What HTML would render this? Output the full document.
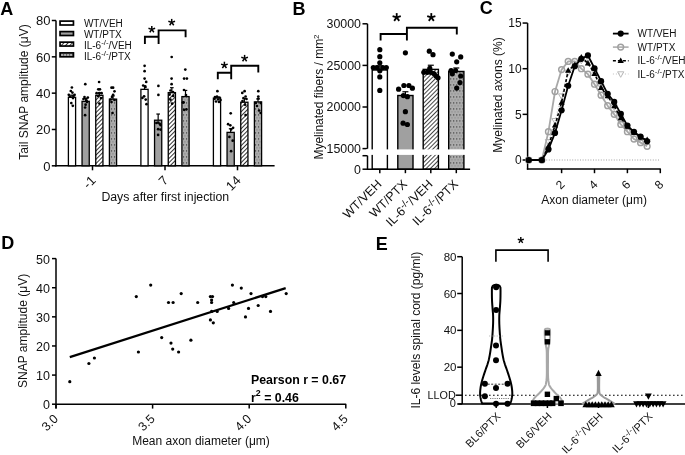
<!DOCTYPE html>
<html><head><meta charset="utf-8"><style>
html,body{margin:0;padding:0;background:#fff;}
svg{display:block;will-change:transform;}
text{font-family:"Liberation Sans", sans-serif;}
</style></head><body>
<svg width="685" height="455" viewBox="0 0 685 455">
<rect width="685" height="455" fill="#fff"/>
<defs>
<pattern id="hatchA" patternUnits="userSpaceOnUse" width="3" height="3" patternTransform="rotate(-45)">
<rect width="3" height="3" fill="#fff"/><line x1="0" y1="0" x2="3" y2="0" stroke="#000" stroke-width="1.6"/></pattern>
<pattern id="hatchB" patternUnits="userSpaceOnUse" width="3" height="3" patternTransform="rotate(-45)">
<rect width="3" height="3" fill="#fff"/><line x1="0" y1="0" x2="3" y2="0" stroke="#000" stroke-width="1.45"/></pattern>
<pattern id="dotsA" patternUnits="userSpaceOnUse" width="3" height="6" x="0" y="0.4">
<rect width="3" height="6" fill="#acacac"/><rect x="0" y="0" width="1.1" height="1.1" fill="#303030"/><rect x="1.2" y="3" width="1.4" height="0.8" fill="#7c7c7c"/></pattern>
<pattern id="dotsB" patternUnits="userSpaceOnUse" width="3.1" height="6" x="0.5" y="0.4">
<rect width="3.1" height="6" fill="#acacac"/><rect x="0" y="0" width="1.1" height="1.1" fill="#383838"/><rect x="1.2" y="3" width="1.5" height="0.8" fill="#808080"/></pattern>
</defs>
<text x="0.20" y="14.60" font-size="18" text-anchor="start" font-weight="bold" fill="#000" >A</text>
<line x1="56.00" y1="20.50" x2="56.00" y2="166.55" stroke="#000" stroke-width="1.5" />
<line x1="51.80" y1="165.80" x2="56.00" y2="165.80" stroke="#000" stroke-width="1.5" />
<text x="50.40" y="170.50" font-size="13" text-anchor="end" font-weight="normal" fill="#111" >0</text>
<line x1="51.80" y1="129.48" x2="56.00" y2="129.48" stroke="#000" stroke-width="1.5" />
<text x="50.40" y="134.18" font-size="13" text-anchor="end" font-weight="normal" fill="#111" >20</text>
<line x1="51.80" y1="93.15" x2="56.00" y2="93.15" stroke="#000" stroke-width="1.5" />
<text x="50.40" y="97.85" font-size="13" text-anchor="end" font-weight="normal" fill="#111" >40</text>
<line x1="51.80" y1="56.83" x2="56.00" y2="56.83" stroke="#000" stroke-width="1.5" />
<text x="50.40" y="61.53" font-size="13" text-anchor="end" font-weight="normal" fill="#111" >60</text>
<line x1="51.80" y1="20.50" x2="56.00" y2="20.50" stroke="#000" stroke-width="1.5" />
<text x="50.40" y="25.20" font-size="13" text-anchor="end" font-weight="normal" fill="#111" >80</text>
<text transform="translate(27.80,92.00) rotate(-90)" font-size="12" text-anchor="middle" fill="#111" >Tail SNAP amplitude (μV)</text>
<line x1="55.25" y1="165.80" x2="274.60" y2="165.80" stroke="#000" stroke-width="1.5" />
<line x1="92.50" y1="165.80" x2="92.50" y2="170.30" stroke="#000" stroke-width="1.5" />
<line x1="165.00" y1="165.80" x2="165.00" y2="170.30" stroke="#000" stroke-width="1.5" />
<line x1="237.50" y1="165.80" x2="237.50" y2="170.30" stroke="#000" stroke-width="1.5" />
<text transform="translate(96.50,181.20) rotate(-45)" font-size="13" text-anchor="end" fill="#111" >-1</text>
<text transform="translate(169.00,181.20) rotate(-45)" font-size="13" text-anchor="end" fill="#111" >7</text>
<text transform="translate(241.50,181.20) rotate(-45)" font-size="13" text-anchor="end" fill="#111" >14</text>
<text x="165.30" y="200.60" font-size="12.3" text-anchor="middle" font-weight="normal" fill="#111" >Days after first injection</text>
<rect x="68.40" y="97.33" width="7.2" height="68.47" fill="#fff" stroke="#000" stroke-width="1.3"/>
<line x1="72.00" y1="97.33" x2="72.00" y2="95.15" stroke="#000" stroke-width="1.2" />
<line x1="70.20" y1="95.15" x2="73.80" y2="95.15" stroke="#000" stroke-width="1.2" />
<rect x="82.05" y="101.32" width="7.2" height="64.48" fill="#a0a0a0" stroke="#000" stroke-width="1.3"/>
<line x1="85.65" y1="101.32" x2="85.65" y2="98.42" stroke="#000" stroke-width="1.2" />
<line x1="83.85" y1="98.42" x2="87.45" y2="98.42" stroke="#000" stroke-width="1.2" />
<rect x="95.75" y="95.33" width="7.2" height="70.47" fill="url(#hatchA)" stroke="#000" stroke-width="1.3"/>
<line x1="99.35" y1="95.33" x2="99.35" y2="92.79" stroke="#000" stroke-width="1.2" />
<line x1="97.55" y1="92.79" x2="101.15" y2="92.79" stroke="#000" stroke-width="1.2" />
<rect x="109.40" y="99.14" width="7.2" height="66.66" fill="url(#dotsA)" stroke="#000" stroke-width="1.3"/>
<line x1="113.00" y1="99.14" x2="113.00" y2="95.87" stroke="#000" stroke-width="1.2" />
<line x1="111.20" y1="95.87" x2="114.80" y2="95.87" stroke="#000" stroke-width="1.2" />
<rect x="140.90" y="89.34" width="7.2" height="76.46" fill="#fff" stroke="#000" stroke-width="1.3"/>
<line x1="144.50" y1="89.34" x2="144.50" y2="85.70" stroke="#000" stroke-width="1.2" />
<line x1="142.70" y1="85.70" x2="146.30" y2="85.70" stroke="#000" stroke-width="1.2" />
<rect x="154.55" y="120.21" width="7.2" height="45.59" fill="#a0a0a0" stroke="#000" stroke-width="1.3"/>
<line x1="158.15" y1="120.21" x2="158.15" y2="114.04" stroke="#000" stroke-width="1.2" />
<line x1="156.35" y1="114.04" x2="159.95" y2="114.04" stroke="#000" stroke-width="1.2" />
<rect x="168.25" y="92.61" width="7.2" height="73.19" fill="url(#hatchA)" stroke="#000" stroke-width="1.3"/>
<line x1="171.85" y1="92.61" x2="171.85" y2="87.70" stroke="#000" stroke-width="1.2" />
<line x1="170.05" y1="87.70" x2="173.65" y2="87.70" stroke="#000" stroke-width="1.2" />
<rect x="181.90" y="96.60" width="7.2" height="69.20" fill="url(#dotsA)" stroke="#000" stroke-width="1.3"/>
<line x1="185.50" y1="96.60" x2="185.50" y2="90.43" stroke="#000" stroke-width="1.2" />
<line x1="183.70" y1="90.43" x2="187.30" y2="90.43" stroke="#000" stroke-width="1.2" />
<rect x="213.40" y="98.05" width="7.2" height="67.75" fill="#fff" stroke="#000" stroke-width="1.3"/>
<line x1="217.00" y1="98.05" x2="217.00" y2="96.96" stroke="#000" stroke-width="1.2" />
<line x1="215.20" y1="96.96" x2="218.80" y2="96.96" stroke="#000" stroke-width="1.2" />
<rect x="227.05" y="132.38" width="7.2" height="33.42" fill="#a0a0a0" stroke="#000" stroke-width="1.3"/>
<line x1="230.65" y1="132.38" x2="230.65" y2="128.75" stroke="#000" stroke-width="1.2" />
<line x1="228.85" y1="128.75" x2="232.45" y2="128.75" stroke="#000" stroke-width="1.2" />
<rect x="240.75" y="102.23" width="7.2" height="63.57" fill="url(#hatchA)" stroke="#000" stroke-width="1.3"/>
<line x1="244.35" y1="102.23" x2="244.35" y2="98.60" stroke="#000" stroke-width="1.2" />
<line x1="242.55" y1="98.60" x2="246.15" y2="98.60" stroke="#000" stroke-width="1.2" />
<rect x="254.40" y="101.87" width="7.2" height="63.93" fill="url(#dotsA)" stroke="#000" stroke-width="1.3"/>
<line x1="258.00" y1="101.87" x2="258.00" y2="98.96" stroke="#000" stroke-width="1.2" />
<line x1="256.20" y1="98.96" x2="259.80" y2="98.96" stroke="#000" stroke-width="1.2" />
<circle cx="71.90" cy="87.50" r="1.35" fill="#000"/>
<circle cx="70.80" cy="91.00" r="1.35" fill="#000"/>
<circle cx="72.40" cy="92.60" r="1.35" fill="#000"/>
<circle cx="68.80" cy="94.80" r="1.35" fill="#000"/>
<circle cx="74.60" cy="94.80" r="1.35" fill="#000"/>
<circle cx="73.00" cy="98.10" r="1.35" fill="#000"/>
<circle cx="71.30" cy="103.10" r="1.35" fill="#000"/>
<circle cx="72.80" cy="105.80" r="1.35" fill="#000"/>
<circle cx="70.00" cy="96.50" r="1.35" fill="#000"/>
<circle cx="73.50" cy="96.00" r="1.35" fill="#000"/>
<circle cx="85.30" cy="84.20" r="1.35" fill="#000"/>
<circle cx="84.50" cy="97.00" r="1.35" fill="#000"/>
<circle cx="87.80" cy="97.60" r="1.35" fill="#000"/>
<circle cx="86.40" cy="100.30" r="1.35" fill="#000"/>
<circle cx="85.60" cy="104.70" r="1.35" fill="#000"/>
<circle cx="85.10" cy="107.50" r="1.35" fill="#000"/>
<circle cx="85.10" cy="115.20" r="1.35" fill="#000"/>
<circle cx="83.50" cy="99.00" r="1.35" fill="#000"/>
<circle cx="87.00" cy="102.00" r="1.35" fill="#000"/>
<circle cx="99.10" cy="82.00" r="1.35" fill="#000"/>
<circle cx="98.30" cy="89.30" r="1.35" fill="#000"/>
<circle cx="99.90" cy="89.30" r="1.35" fill="#000"/>
<circle cx="96.60" cy="93.20" r="1.35" fill="#000"/>
<circle cx="99.30" cy="93.20" r="1.35" fill="#000"/>
<circle cx="101.60" cy="93.20" r="1.35" fill="#000"/>
<circle cx="99.40" cy="103.60" r="1.35" fill="#000"/>
<circle cx="98.00" cy="96.00" r="1.35" fill="#000"/>
<circle cx="101.00" cy="98.00" r="1.35" fill="#000"/>
<circle cx="111.50" cy="87.70" r="1.35" fill="#000"/>
<circle cx="113.10" cy="87.70" r="1.35" fill="#000"/>
<circle cx="114.50" cy="91.30" r="1.35" fill="#000"/>
<circle cx="113.10" cy="94.80" r="1.35" fill="#000"/>
<circle cx="112.00" cy="97.00" r="1.35" fill="#000"/>
<circle cx="111.50" cy="102.00" r="1.35" fill="#000"/>
<circle cx="112.50" cy="113.00" r="1.35" fill="#000"/>
<circle cx="110.50" cy="99.50" r="1.35" fill="#000"/>
<circle cx="114.50" cy="100.00" r="1.35" fill="#000"/>
<circle cx="144.60" cy="65.80" r="1.35" fill="#000"/>
<circle cx="144.60" cy="71.20" r="1.35" fill="#000"/>
<circle cx="144.60" cy="78.60" r="1.35" fill="#000"/>
<circle cx="146.20" cy="81.90" r="1.35" fill="#000"/>
<circle cx="143.20" cy="85.50" r="1.35" fill="#000"/>
<circle cx="142.40" cy="97.90" r="1.35" fill="#000"/>
<circle cx="145.70" cy="99.60" r="1.35" fill="#000"/>
<circle cx="146.50" cy="104.20" r="1.35" fill="#000"/>
<circle cx="144.10" cy="96.30" r="1.35" fill="#000"/>
<circle cx="145.50" cy="87.00" r="1.35" fill="#000"/>
<circle cx="158.40" cy="85.90" r="1.35" fill="#000"/>
<circle cx="158.40" cy="94.90" r="1.35" fill="#000"/>
<circle cx="158.10" cy="122.60" r="1.35" fill="#000"/>
<circle cx="160.50" cy="125.10" r="1.35" fill="#000"/>
<circle cx="158.10" cy="129.20" r="1.35" fill="#000"/>
<circle cx="156.40" cy="123.00" r="1.35" fill="#000"/>
<circle cx="159.70" cy="123.80" r="1.35" fill="#000"/>
<circle cx="160.50" cy="129.60" r="1.35" fill="#000"/>
<circle cx="158.10" cy="134.90" r="1.35" fill="#000"/>
<circle cx="171.70" cy="57.00" r="1.35" fill="#000"/>
<circle cx="171.60" cy="78.60" r="1.35" fill="#000"/>
<circle cx="171.60" cy="84.20" r="1.35" fill="#000"/>
<circle cx="169.60" cy="94.60" r="1.35" fill="#000"/>
<circle cx="173.20" cy="95.90" r="1.35" fill="#000"/>
<circle cx="170.40" cy="99.60" r="1.35" fill="#000"/>
<circle cx="172.10" cy="103.70" r="1.35" fill="#000"/>
<circle cx="173.00" cy="92.00" r="1.35" fill="#000"/>
<circle cx="170.50" cy="90.50" r="1.35" fill="#000"/>
<circle cx="185.30" cy="69.60" r="1.35" fill="#000"/>
<circle cx="184.10" cy="78.60" r="1.35" fill="#000"/>
<circle cx="186.90" cy="78.60" r="1.35" fill="#000"/>
<circle cx="182.80" cy="102.50" r="1.35" fill="#000"/>
<circle cx="186.40" cy="109.40" r="1.35" fill="#000"/>
<circle cx="183.60" cy="102.40" r="1.35" fill="#000"/>
<circle cx="184.10" cy="109.80" r="1.35" fill="#000"/>
<circle cx="186.00" cy="95.00" r="1.35" fill="#000"/>
<circle cx="184.00" cy="90.00" r="1.35" fill="#000"/>
<circle cx="217.40" cy="91.20" r="1.35" fill="#000"/>
<circle cx="215.00" cy="97.00" r="1.35" fill="#000"/>
<circle cx="217.00" cy="96.50" r="1.35" fill="#000"/>
<circle cx="219.50" cy="97.50" r="1.35" fill="#000"/>
<circle cx="214.50" cy="99.00" r="1.35" fill="#000"/>
<circle cx="218.00" cy="99.50" r="1.35" fill="#000"/>
<circle cx="220.50" cy="100.00" r="1.35" fill="#000"/>
<circle cx="216.00" cy="101.50" r="1.35" fill="#000"/>
<circle cx="219.00" cy="102.00" r="1.35" fill="#000"/>
<circle cx="230.70" cy="113.30" r="1.35" fill="#000"/>
<circle cx="228.10" cy="124.20" r="1.35" fill="#000"/>
<circle cx="230.30" cy="125.30" r="1.35" fill="#000"/>
<circle cx="233.10" cy="127.80" r="1.35" fill="#000"/>
<circle cx="231.10" cy="129.40" r="1.35" fill="#000"/>
<circle cx="229.40" cy="136.90" r="1.35" fill="#000"/>
<circle cx="232.70" cy="140.70" r="1.35" fill="#000"/>
<circle cx="231.10" cy="151.20" r="1.35" fill="#000"/>
<circle cx="242.30" cy="92.90" r="1.35" fill="#000"/>
<circle cx="244.60" cy="91.20" r="1.35" fill="#000"/>
<circle cx="245.60" cy="96.50" r="1.35" fill="#000"/>
<circle cx="243.50" cy="98.00" r="1.35" fill="#000"/>
<circle cx="246.50" cy="99.00" r="1.35" fill="#000"/>
<circle cx="245.10" cy="104.70" r="1.35" fill="#000"/>
<circle cx="245.60" cy="115.10" r="1.35" fill="#000"/>
<circle cx="242.50" cy="101.00" r="1.35" fill="#000"/>
<circle cx="258.30" cy="91.20" r="1.35" fill="#000"/>
<circle cx="258.30" cy="96.50" r="1.35" fill="#000"/>
<circle cx="258.30" cy="98.50" r="1.35" fill="#000"/>
<circle cx="255.80" cy="103.10" r="1.35" fill="#000"/>
<circle cx="260.70" cy="103.10" r="1.35" fill="#000"/>
<circle cx="259.10" cy="110.50" r="1.35" fill="#000"/>
<circle cx="260.70" cy="113.00" r="1.35" fill="#000"/>
<circle cx="257.00" cy="106.00" r="1.35" fill="#000"/>
<polyline points="144.90,44.00 144.90,36.80 158.60,36.80" fill="none" stroke="#000" stroke-width="1.9" stroke-linejoin="miter"/>
<polyline points="158.60,44.00 158.60,30.40 185.60,30.40 185.60,37.20" fill="none" stroke="#000" stroke-width="1.9" stroke-linejoin="miter"/>
<line x1="151.80" y1="29.40" x2="151.80" y2="25.90" stroke="#000" stroke-width="1.5" stroke-linecap="butt"/>
<line x1="151.80" y1="29.40" x2="155.13" y2="28.32" stroke="#000" stroke-width="1.5" stroke-linecap="butt"/>
<line x1="151.80" y1="29.40" x2="153.86" y2="32.23" stroke="#000" stroke-width="1.5" stroke-linecap="butt"/>
<line x1="151.80" y1="29.40" x2="149.74" y2="32.23" stroke="#000" stroke-width="1.5" stroke-linecap="butt"/>
<line x1="151.80" y1="29.40" x2="148.47" y2="28.32" stroke="#000" stroke-width="1.5" stroke-linecap="butt"/>
<line x1="171.70" y1="22.40" x2="171.70" y2="18.90" stroke="#000" stroke-width="1.5" stroke-linecap="butt"/>
<line x1="171.70" y1="22.40" x2="175.03" y2="21.32" stroke="#000" stroke-width="1.5" stroke-linecap="butt"/>
<line x1="171.70" y1="22.40" x2="173.76" y2="25.23" stroke="#000" stroke-width="1.5" stroke-linecap="butt"/>
<line x1="171.70" y1="22.40" x2="169.64" y2="25.23" stroke="#000" stroke-width="1.5" stroke-linecap="butt"/>
<line x1="171.70" y1="22.40" x2="168.37" y2="21.32" stroke="#000" stroke-width="1.5" stroke-linecap="butt"/>
<polyline points="217.80,79.20 217.80,72.70 231.20,72.70" fill="none" stroke="#000" stroke-width="1.9" stroke-linejoin="miter"/>
<polyline points="231.20,79.20 231.20,65.70 258.30,65.70 258.30,72.50" fill="none" stroke="#000" stroke-width="1.9" stroke-linejoin="miter"/>
<line x1="224.40" y1="65.20" x2="224.40" y2="61.70" stroke="#000" stroke-width="1.5" stroke-linecap="butt"/>
<line x1="224.40" y1="65.20" x2="227.73" y2="64.12" stroke="#000" stroke-width="1.5" stroke-linecap="butt"/>
<line x1="224.40" y1="65.20" x2="226.46" y2="68.03" stroke="#000" stroke-width="1.5" stroke-linecap="butt"/>
<line x1="224.40" y1="65.20" x2="222.34" y2="68.03" stroke="#000" stroke-width="1.5" stroke-linecap="butt"/>
<line x1="224.40" y1="65.20" x2="221.07" y2="64.12" stroke="#000" stroke-width="1.5" stroke-linecap="butt"/>
<line x1="244.60" y1="58.40" x2="244.60" y2="54.90" stroke="#000" stroke-width="1.5" stroke-linecap="butt"/>
<line x1="244.60" y1="58.40" x2="247.93" y2="57.32" stroke="#000" stroke-width="1.5" stroke-linecap="butt"/>
<line x1="244.60" y1="58.40" x2="246.66" y2="61.23" stroke="#000" stroke-width="1.5" stroke-linecap="butt"/>
<line x1="244.60" y1="58.40" x2="242.54" y2="61.23" stroke="#000" stroke-width="1.5" stroke-linecap="butt"/>
<line x1="244.60" y1="58.40" x2="241.27" y2="57.32" stroke="#000" stroke-width="1.5" stroke-linecap="butt"/>
<rect x="60.05" y="21.10" width="13.4" height="3.9" fill="#fff" stroke="#000" stroke-width="1.7"/>
<rect x="60.05" y="31.60" width="13.4" height="3.9" fill="#a0a0a0" stroke="#000" stroke-width="1.7"/>
<rect x="60.05" y="42.15" width="13.4" height="3.9" fill="url(#hatchA)" stroke="#000" stroke-width="1.7"/>
<rect x="60.05" y="52.90" width="13.4" height="3.9" fill="url(#dotsA)" stroke="#000" stroke-width="1.7"/>
<text x="83.90" y="26.80" font-size="10" text-anchor="start" font-weight="normal" fill="#111" >WT/VEH</text>
<text x="83.90" y="37.50" font-size="10" text-anchor="start" font-weight="normal" fill="#111" >WT/PTX</text>
<text x="83.90" y="49.30" font-size="10" text-anchor="start" font-weight="normal" fill="#111" >IL-6<tspan dy="-4" font-size="78%">-/-</tspan><tspan dy="4">/VEH</tspan></text>
<text x="83.90" y="59.90" font-size="10" text-anchor="start" font-weight="normal" fill="#111" >IL-6<tspan dy="-4" font-size="78%">-/-</tspan><tspan dy="4">/PTX</tspan></text>
<text x="292.60" y="14.90" font-size="18" text-anchor="start" font-weight="bold" fill="#000" >B</text>
<line x1="367.50" y1="23.80" x2="367.50" y2="148.60" stroke="#000" stroke-width="1.5" />
<line x1="367.50" y1="155.70" x2="367.50" y2="169.90" stroke="#000" stroke-width="1.5" />
<line x1="362.50" y1="23.80" x2="367.50" y2="23.80" stroke="#000" stroke-width="1.5" />
<text x="361.00" y="28.20" font-size="12.4" text-anchor="end" font-weight="normal" fill="#111" >30000</text>
<line x1="362.50" y1="65.40" x2="367.50" y2="65.40" stroke="#000" stroke-width="1.5" />
<text x="361.00" y="69.80" font-size="12.4" text-anchor="end" font-weight="normal" fill="#111" >25000</text>
<line x1="362.50" y1="107.00" x2="367.50" y2="107.00" stroke="#000" stroke-width="1.5" />
<text x="361.00" y="111.40" font-size="12.4" text-anchor="end" font-weight="normal" fill="#111" >20000</text>
<line x1="362.50" y1="148.60" x2="367.50" y2="148.60" stroke="#000" stroke-width="1.5" />
<text x="361.00" y="153.00" font-size="12.4" text-anchor="end" font-weight="normal" fill="#111" >15000</text>
<line x1="362.50" y1="155.70" x2="367.50" y2="155.70" stroke="#000" stroke-width="1.5" />
<line x1="362.50" y1="169.20" x2="367.50" y2="169.20" stroke="#000" stroke-width="1.5" />
<text x="361.00" y="173.60" font-size="12.4" text-anchor="end" font-weight="normal" fill="#111" >0</text>
<text transform="translate(322.60,97.00) rotate(-90)" font-size="12" text-anchor="middle" fill="#111" >Myelinated fibers / mm<tspan dy="-4" font-size="8">2</tspan></text>
<rect x="372.20" y="69.98" width="15.2" height="99.22" fill="#fff" stroke="#000" stroke-width="1.4"/>
<line x1="379.80" y1="69.98" x2="379.80" y2="65.82" stroke="#000" stroke-width="1.2" />
<line x1="376.80" y1="65.82" x2="382.80" y2="65.82" stroke="#000" stroke-width="1.2" />
<rect x="397.80" y="95.52" width="15.2" height="73.68" fill="#a0a0a0" stroke="#000" stroke-width="1.4"/>
<line x1="405.40" y1="95.52" x2="405.40" y2="91.77" stroke="#000" stroke-width="1.2" />
<line x1="402.40" y1="91.77" x2="408.40" y2="91.77" stroke="#000" stroke-width="1.2" />
<rect x="423.20" y="69.39" width="15.2" height="99.81" fill="url(#hatchB)" stroke="#000" stroke-width="1.4"/>
<line x1="430.80" y1="69.39" x2="430.80" y2="65.23" stroke="#000" stroke-width="1.2" />
<line x1="427.80" y1="65.23" x2="433.80" y2="65.23" stroke="#000" stroke-width="1.2" />
<rect x="448.70" y="71.47" width="15.2" height="97.73" fill="url(#dotsB)" stroke="#000" stroke-width="1.4"/>
<line x1="456.30" y1="71.47" x2="456.30" y2="67.98" stroke="#000" stroke-width="1.2" />
<line x1="453.30" y1="67.98" x2="459.30" y2="67.98" stroke="#000" stroke-width="1.2" />
<rect x="366" y="149.4" width="102" height="5.5" fill="#fff"/>
<line x1="367.00" y1="169.20" x2="470.10" y2="169.20" stroke="#000" stroke-width="1.5" />
<line x1="379.80" y1="169.20" x2="379.80" y2="173.20" stroke="#000" stroke-width="1.5" />
<line x1="405.40" y1="169.20" x2="405.40" y2="173.20" stroke="#000" stroke-width="1.5" />
<line x1="430.80" y1="169.20" x2="430.80" y2="173.20" stroke="#000" stroke-width="1.5" />
<line x1="456.30" y1="169.20" x2="456.30" y2="173.20" stroke="#000" stroke-width="1.5" />
<circle cx="379.80" cy="49.70" r="2.6" fill="#000"/>
<circle cx="379.80" cy="56.70" r="2.6" fill="#000"/>
<circle cx="379.80" cy="62.80" r="2.6" fill="#000"/>
<circle cx="373.30" cy="67.60" r="2.6" fill="#000"/>
<circle cx="376.80" cy="67.60" r="2.6" fill="#000"/>
<circle cx="382.80" cy="67.60" r="2.6" fill="#000"/>
<circle cx="386.30" cy="67.60" r="2.6" fill="#000"/>
<circle cx="379.80" cy="70.80" r="2.6" fill="#000"/>
<circle cx="379.80" cy="76.90" r="2.6" fill="#000"/>
<circle cx="379.80" cy="90.40" r="2.6" fill="#000"/>
<circle cx="405.40" cy="52.80" r="2.6" fill="#000"/>
<circle cx="398.60" cy="89.20" r="2.6" fill="#000"/>
<circle cx="403.90" cy="85.50" r="2.6" fill="#000"/>
<circle cx="408.90" cy="85.50" r="2.6" fill="#000"/>
<circle cx="412.40" cy="88.20" r="2.6" fill="#000"/>
<circle cx="403.40" cy="95.60" r="2.6" fill="#000"/>
<circle cx="407.40" cy="96.70" r="2.6" fill="#000"/>
<circle cx="405.40" cy="111.70" r="2.6" fill="#000"/>
<circle cx="403.10" cy="123.20" r="2.6" fill="#000"/>
<circle cx="407.40" cy="124.50" r="2.6" fill="#000"/>
<circle cx="429.30" cy="51.20" r="2.6" fill="#000"/>
<circle cx="433.00" cy="54.70" r="2.6" fill="#000"/>
<circle cx="423.80" cy="72.30" r="2.6" fill="#000"/>
<circle cx="427.30" cy="72.30" r="2.6" fill="#000"/>
<circle cx="430.80" cy="72.30" r="2.6" fill="#000"/>
<circle cx="433.80" cy="73.60" r="2.6" fill="#000"/>
<circle cx="436.00" cy="76.00" r="2.6" fill="#000"/>
<circle cx="438.00" cy="77.80" r="2.6" fill="#000"/>
<circle cx="429.80" cy="68.40" r="2.6" fill="#000"/>
<circle cx="452.30" cy="54.10" r="2.6" fill="#000"/>
<circle cx="460.70" cy="56.90" r="2.6" fill="#000"/>
<circle cx="456.70" cy="61.80" r="2.6" fill="#000"/>
<circle cx="451.10" cy="70.50" r="2.6" fill="#000"/>
<circle cx="455.60" cy="70.50" r="2.6" fill="#000"/>
<circle cx="452.30" cy="73.80" r="2.6" fill="#000"/>
<circle cx="460.70" cy="76.00" r="2.6" fill="#000"/>
<circle cx="460.00" cy="82.60" r="2.6" fill="#000"/>
<circle cx="456.70" cy="88.10" r="2.6" fill="#000"/>
<polyline points="380.60,40.60 380.60,34.00 406.90,34.00" fill="none" stroke="#000" stroke-width="1.9" />
<polyline points="406.90,40.60 406.90,27.80 456.80,27.80 456.80,34.60" fill="none" stroke="#000" stroke-width="1.9" />
<line x1="396.70" y1="17.40" x2="396.70" y2="13.10" stroke="#000" stroke-width="1.8" stroke-linecap="butt"/>
<line x1="396.70" y1="17.40" x2="400.79" y2="16.07" stroke="#000" stroke-width="1.8" stroke-linecap="butt"/>
<line x1="396.70" y1="17.40" x2="399.23" y2="20.88" stroke="#000" stroke-width="1.8" stroke-linecap="butt"/>
<line x1="396.70" y1="17.40" x2="394.17" y2="20.88" stroke="#000" stroke-width="1.8" stroke-linecap="butt"/>
<line x1="396.70" y1="17.40" x2="392.61" y2="16.07" stroke="#000" stroke-width="1.8" stroke-linecap="butt"/>
<line x1="431.30" y1="17.40" x2="431.30" y2="13.10" stroke="#000" stroke-width="1.8" stroke-linecap="butt"/>
<line x1="431.30" y1="17.40" x2="435.39" y2="16.07" stroke="#000" stroke-width="1.8" stroke-linecap="butt"/>
<line x1="431.30" y1="17.40" x2="433.83" y2="20.88" stroke="#000" stroke-width="1.8" stroke-linecap="butt"/>
<line x1="431.30" y1="17.40" x2="428.77" y2="20.88" stroke="#000" stroke-width="1.8" stroke-linecap="butt"/>
<line x1="431.30" y1="17.40" x2="427.21" y2="16.07" stroke="#000" stroke-width="1.8" stroke-linecap="butt"/>
<text transform="translate(382.40,184.90) rotate(-45)" font-size="12.5" text-anchor="end" fill="#111" >WT/VEH</text>
<text transform="translate(408.00,184.90) rotate(-45)" font-size="12.5" text-anchor="end" fill="#111" >WT/PTX</text>
<text transform="translate(433.40,184.90) rotate(-45)" font-size="12.5" text-anchor="end" fill="#111" >IL-6<tspan dy="-4" font-size="78%">-/-</tspan><tspan dy="4">/VEH</tspan></text>
<text transform="translate(458.90,184.90) rotate(-45)" font-size="12.5" text-anchor="end" fill="#111" >IL-6<tspan dy="-4" font-size="78%">-/-</tspan><tspan dy="4">/PTX</tspan></text>
<text x="479.80" y="14.30" font-size="18" text-anchor="start" font-weight="bold" fill="#000" >C</text>
<line x1="527.60" y1="23.10" x2="527.60" y2="169.60" stroke="#000" stroke-width="1.5" />
<line x1="522.60" y1="160.00" x2="527.60" y2="160.00" stroke="#000" stroke-width="1.5" />
<text x="521.60" y="164.30" font-size="12" text-anchor="end" font-weight="normal" fill="#111" >0</text>
<line x1="522.60" y1="114.35" x2="527.60" y2="114.35" stroke="#000" stroke-width="1.5" />
<text x="521.60" y="118.65" font-size="12" text-anchor="end" font-weight="normal" fill="#111" >5</text>
<line x1="522.60" y1="68.70" x2="527.60" y2="68.70" stroke="#000" stroke-width="1.5" />
<text x="521.60" y="73.00" font-size="12" text-anchor="end" font-weight="normal" fill="#111" >10</text>
<line x1="522.60" y1="23.05" x2="527.60" y2="23.05" stroke="#000" stroke-width="1.5" />
<text x="521.60" y="27.35" font-size="12" text-anchor="end" font-weight="normal" fill="#111" >15</text>
<line x1="526.85" y1="168.90" x2="660.80" y2="168.90" stroke="#000" stroke-width="1.5" />
<line x1="561.60" y1="168.90" x2="561.60" y2="173.20" stroke="#000" stroke-width="1.5" />
<text transform="translate(563.10,187.70) rotate(-45)" font-size="12" text-anchor="middle" fill="#111" >2</text>
<line x1="594.50" y1="168.90" x2="594.50" y2="173.20" stroke="#000" stroke-width="1.5" />
<text transform="translate(596.00,187.70) rotate(-45)" font-size="12" text-anchor="middle" fill="#111" >4</text>
<line x1="627.40" y1="168.90" x2="627.40" y2="173.20" stroke="#000" stroke-width="1.5" />
<text transform="translate(628.90,187.70) rotate(-45)" font-size="12" text-anchor="middle" fill="#111" >6</text>
<line x1="660.30" y1="168.90" x2="660.30" y2="173.20" stroke="#000" stroke-width="1.5" />
<text transform="translate(661.80,187.70) rotate(-45)" font-size="12" text-anchor="middle" fill="#111" >8</text>
<line x1="528.00" y1="160.00" x2="660.00" y2="160.00" stroke="#888" stroke-width="0.8" stroke-dasharray="1,1.6"/>
<text x="594.10" y="203.50" font-size="12" text-anchor="middle" font-weight="normal" fill="#111" >Axon diameter (μm)</text>
<text transform="translate(501.50,95.00) rotate(-90)" font-size="12" text-anchor="middle" fill="#111" >Myelinated axons (%)</text>
<polyline points="528.70,160.00 541.86,160.00 548.44,141.74 555.02,120.74 561.60,96.09 568.18,72.35 574.76,64.13 581.34,60.48 587.92,62.31 594.50,72.35 601.08,86.96 607.66,96.09 614.24,107.05 620.82,118.91 627.40,127.13 633.98,133.52 640.56,138.09 647.14,141.74" fill="none" stroke="#c0c0c0" stroke-width="1.2" stroke-dasharray="1,2"/>
<polygon points="528.70,163.30 531.80,157.80 525.60,157.80" fill="none" stroke="#b8b8b8" stroke-width="1"/>
<polygon points="541.86,163.30 544.96,157.80 538.76,157.80" fill="none" stroke="#b8b8b8" stroke-width="1"/>
<polygon points="548.44,145.04 551.54,139.54 545.34,139.54" fill="none" stroke="#b8b8b8" stroke-width="1"/>
<polygon points="555.02,124.04 558.12,118.54 551.92,118.54" fill="none" stroke="#b8b8b8" stroke-width="1"/>
<polygon points="561.60,99.39 564.70,93.89 558.50,93.89" fill="none" stroke="#b8b8b8" stroke-width="1"/>
<polygon points="568.18,75.65 571.28,70.15 565.08,70.15" fill="none" stroke="#b8b8b8" stroke-width="1"/>
<polygon points="574.76,67.43 577.86,61.93 571.66,61.93" fill="none" stroke="#b8b8b8" stroke-width="1"/>
<polygon points="581.34,63.78 584.44,58.28 578.24,58.28" fill="none" stroke="#b8b8b8" stroke-width="1"/>
<polygon points="587.92,65.61 591.02,60.11 584.82,60.11" fill="none" stroke="#b8b8b8" stroke-width="1"/>
<polygon points="594.50,75.65 597.60,70.15 591.40,70.15" fill="none" stroke="#b8b8b8" stroke-width="1"/>
<polygon points="601.08,90.26 604.18,84.76 597.98,84.76" fill="none" stroke="#b8b8b8" stroke-width="1"/>
<polygon points="607.66,99.39 610.76,93.89 604.56,93.89" fill="none" stroke="#b8b8b8" stroke-width="1"/>
<polygon points="614.24,110.35 617.34,104.85 611.14,104.85" fill="none" stroke="#b8b8b8" stroke-width="1"/>
<polygon points="620.82,122.21 623.92,116.71 617.72,116.71" fill="none" stroke="#b8b8b8" stroke-width="1"/>
<polygon points="627.40,130.43 630.50,124.93 624.30,124.93" fill="none" stroke="#b8b8b8" stroke-width="1"/>
<polygon points="633.98,136.82 637.08,131.32 630.88,131.32" fill="none" stroke="#b8b8b8" stroke-width="1"/>
<polygon points="640.56,141.39 643.66,135.89 637.46,135.89" fill="none" stroke="#b8b8b8" stroke-width="1"/>
<polygon points="647.14,145.04 650.24,139.54 644.04,139.54" fill="none" stroke="#b8b8b8" stroke-width="1"/>
<polyline points="528.70,160.00 541.86,160.00 548.44,131.70 555.02,91.52 561.60,69.61 568.18,61.40 574.76,61.40 581.34,68.70 587.92,74.18 594.50,84.22 601.08,95.18 607.66,105.68 614.24,114.35 620.82,124.39 627.40,131.70 633.98,139.00 640.56,142.65 647.14,146.31" fill="none" stroke="#a8a8a8" stroke-width="1.8" />
<circle cx="528.70" cy="160.00" r="2.9" fill="none" stroke="#a0a0a0" stroke-width="1.45"/>
<circle cx="541.86" cy="160.00" r="2.9" fill="none" stroke="#a0a0a0" stroke-width="1.45"/>
<circle cx="548.44" cy="131.70" r="2.9" fill="none" stroke="#a0a0a0" stroke-width="1.45"/>
<circle cx="555.02" cy="91.52" r="2.9" fill="none" stroke="#a0a0a0" stroke-width="1.45"/>
<circle cx="561.60" cy="69.61" r="2.9" fill="none" stroke="#a0a0a0" stroke-width="1.45"/>
<circle cx="568.18" cy="61.40" r="2.9" fill="none" stroke="#a0a0a0" stroke-width="1.45"/>
<circle cx="574.76" cy="61.40" r="2.9" fill="none" stroke="#a0a0a0" stroke-width="1.45"/>
<circle cx="581.34" cy="68.70" r="2.9" fill="none" stroke="#a0a0a0" stroke-width="1.45"/>
<circle cx="587.92" cy="74.18" r="2.9" fill="none" stroke="#a0a0a0" stroke-width="1.45"/>
<circle cx="594.50" cy="84.22" r="2.9" fill="none" stroke="#a0a0a0" stroke-width="1.45"/>
<circle cx="601.08" cy="95.18" r="2.9" fill="none" stroke="#a0a0a0" stroke-width="1.45"/>
<circle cx="607.66" cy="105.68" r="2.9" fill="none" stroke="#a0a0a0" stroke-width="1.45"/>
<circle cx="614.24" cy="114.35" r="2.9" fill="none" stroke="#a0a0a0" stroke-width="1.45"/>
<circle cx="620.82" cy="124.39" r="2.9" fill="none" stroke="#a0a0a0" stroke-width="1.45"/>
<circle cx="627.40" cy="131.70" r="2.9" fill="none" stroke="#a0a0a0" stroke-width="1.45"/>
<circle cx="633.98" cy="139.00" r="2.9" fill="none" stroke="#a0a0a0" stroke-width="1.45"/>
<circle cx="640.56" cy="142.65" r="2.9" fill="none" stroke="#a0a0a0" stroke-width="1.45"/>
<circle cx="647.14" cy="146.31" r="2.9" fill="none" stroke="#a0a0a0" stroke-width="1.45"/>
<polyline points="528.70,160.00 541.86,160.00 548.44,146.31 555.02,125.31 561.60,102.48 568.18,70.53 574.76,65.05 581.34,57.29 587.92,63.22 594.50,73.72 601.08,87.87 607.66,96.09 614.24,106.13 620.82,118.00 627.40,126.22 633.98,132.61 640.56,137.18 647.14,139.91" fill="none" stroke="#000" stroke-width="1.6" stroke-dasharray="3,2"/>
<polygon points="528.70,156.70 531.80,162.20 525.60,162.20" fill="#000"/>
<polygon points="541.86,156.70 544.96,162.20 538.76,162.20" fill="#000"/>
<polygon points="548.44,143.00 551.54,148.50 545.34,148.50" fill="#000"/>
<polygon points="555.02,122.01 558.12,127.51 551.92,127.51" fill="#000"/>
<polygon points="561.60,99.18 564.70,104.68 558.50,104.68" fill="#000"/>
<polygon points="568.18,67.23 571.28,72.73 565.08,72.73" fill="#000"/>
<polygon points="574.76,61.75 577.86,67.25 571.66,67.25" fill="#000"/>
<polygon points="581.34,53.99 584.44,59.49 578.24,59.49" fill="#000"/>
<polygon points="587.92,59.92 591.02,65.42 584.82,65.42" fill="#000"/>
<polygon points="594.50,70.42 597.60,75.92 591.40,75.92" fill="#000"/>
<polygon points="601.08,84.57 604.18,90.07 597.98,90.07" fill="#000"/>
<polygon points="607.66,92.79 610.76,98.29 604.56,98.29" fill="#000"/>
<polygon points="614.24,102.83 617.34,108.33 611.14,108.33" fill="#000"/>
<polygon points="620.82,114.70 623.92,120.20 617.72,120.20" fill="#000"/>
<polygon points="627.40,122.92 630.50,128.42 624.30,128.42" fill="#000"/>
<polygon points="633.98,129.31 637.08,134.81 630.88,134.81" fill="#000"/>
<polygon points="640.56,133.88 643.66,139.38 637.46,139.38" fill="#000"/>
<polygon points="647.14,136.61 650.24,142.11 644.04,142.11" fill="#000"/>
<polyline points="528.70,160.00 541.86,160.00 548.44,149.41 555.02,132.88 561.60,110.24 568.18,85.77 574.76,66.23 581.34,58.84 587.92,55.46 594.50,68.24 601.08,81.21 607.66,93.81 614.24,101.93 620.82,113.89 627.40,125.67 633.98,131.97 640.56,136.54 647.14,141.37" fill="none" stroke="#000" stroke-width="1.8" />
<circle cx="528.70" cy="160.00" r="3.1" fill="#000"/>
<circle cx="541.86" cy="160.00" r="3.1" fill="#000"/>
<circle cx="548.44" cy="149.41" r="3.1" fill="#000"/>
<circle cx="555.02" cy="132.88" r="3.1" fill="#000"/>
<circle cx="561.60" cy="110.24" r="3.1" fill="#000"/>
<circle cx="568.18" cy="85.77" r="3.1" fill="#000"/>
<circle cx="574.76" cy="66.23" r="3.1" fill="#000"/>
<circle cx="581.34" cy="58.84" r="3.1" fill="#000"/>
<circle cx="587.92" cy="55.46" r="3.1" fill="#000"/>
<circle cx="594.50" cy="68.24" r="3.1" fill="#000"/>
<circle cx="601.08" cy="81.21" r="3.1" fill="#000"/>
<circle cx="607.66" cy="93.81" r="3.1" fill="#000"/>
<circle cx="614.24" cy="101.93" r="3.1" fill="#000"/>
<circle cx="620.82" cy="113.89" r="3.1" fill="#000"/>
<circle cx="627.40" cy="125.67" r="3.1" fill="#000"/>
<circle cx="633.98" cy="131.97" r="3.1" fill="#000"/>
<circle cx="640.56" cy="136.54" r="3.1" fill="#000"/>
<circle cx="647.14" cy="141.37" r="3.1" fill="#000"/>
<line x1="612.90" y1="33.60" x2="628.60" y2="33.60" stroke="#000" stroke-width="1.8" />
<circle cx="620.70" cy="33.60" r="3.1" fill="#000"/>
<line x1="612.90" y1="47.10" x2="628.60" y2="47.10" stroke="#a8a8a8" stroke-width="1.5" />
<circle cx="620.70" cy="47.10" r="2.9" fill="none" stroke="#a0a0a0" stroke-width="1.45"/>
<line x1="612.90" y1="60.70" x2="628.60" y2="60.70" stroke="#000" stroke-width="1.6" stroke-dasharray="3,2"/>
<polygon points="620.70,57.40 623.80,62.90 617.60,62.90" fill="#000"/>
<line x1="612.90" y1="74.00" x2="628.60" y2="74.00" stroke="#c0c0c0" stroke-width="1.2" stroke-dasharray="1,2"/>
<polygon points="620.70,77.30 623.80,71.80 617.60,71.80" fill="none" stroke="#b8b8b8" stroke-width="1"/>
<text x="637.60" y="37.20" font-size="10" text-anchor="start" font-weight="normal" fill="#111" >WT/VEH</text>
<text x="637.60" y="50.70" font-size="10" text-anchor="start" font-weight="normal" fill="#111" >WT/PTX</text>
<text x="637.60" y="64.30" font-size="10" text-anchor="start" font-weight="normal" fill="#111" >IL-6<tspan dy="-4" font-size="78%">-/-</tspan><tspan dy="4">/VEH</tspan></text>
<text x="637.60" y="77.60" font-size="10" text-anchor="start" font-weight="normal" fill="#111" >IL-6<tspan dy="-4" font-size="78%">-/-</tspan><tspan dy="4">/PTX</tspan></text>
<text x="1.30" y="249.30" font-size="18" text-anchor="start" font-weight="bold" fill="#000" >D</text>
<line x1="56.00" y1="258.60" x2="56.00" y2="408.60" stroke="#000" stroke-width="1.5" />
<line x1="52.00" y1="404.20" x2="56.00" y2="404.20" stroke="#000" stroke-width="1.5" />
<text x="50.00" y="409.10" font-size="12.5" text-anchor="end" font-weight="normal" fill="#111" >0</text>
<line x1="52.00" y1="375.08" x2="56.00" y2="375.08" stroke="#000" stroke-width="1.5" />
<text x="50.00" y="379.98" font-size="12.5" text-anchor="end" font-weight="normal" fill="#111" >10</text>
<line x1="52.00" y1="345.96" x2="56.00" y2="345.96" stroke="#000" stroke-width="1.5" />
<text x="50.00" y="350.86" font-size="12.5" text-anchor="end" font-weight="normal" fill="#111" >20</text>
<line x1="52.00" y1="316.84" x2="56.00" y2="316.84" stroke="#000" stroke-width="1.5" />
<text x="50.00" y="321.74" font-size="12.5" text-anchor="end" font-weight="normal" fill="#111" >30</text>
<line x1="52.00" y1="287.72" x2="56.00" y2="287.72" stroke="#000" stroke-width="1.5" />
<text x="50.00" y="292.62" font-size="12.5" text-anchor="end" font-weight="normal" fill="#111" >40</text>
<line x1="52.00" y1="258.60" x2="56.00" y2="258.60" stroke="#000" stroke-width="1.5" />
<text x="50.00" y="263.50" font-size="12.5" text-anchor="end" font-weight="normal" fill="#111" >50</text>
<line x1="56.00" y1="404.20" x2="346.20" y2="404.20" stroke="#000" stroke-width="1.5" />
<line x1="56.00" y1="404.20" x2="56.00" y2="408.60" stroke="#000" stroke-width="1.5" />
<text transform="translate(59.00,419.50) rotate(-45)" font-size="12.5" text-anchor="end" fill="#111" >3.0</text>
<line x1="152.60" y1="404.20" x2="152.60" y2="408.60" stroke="#000" stroke-width="1.5" />
<text transform="translate(155.60,419.50) rotate(-45)" font-size="12.5" text-anchor="end" fill="#111" >3.5</text>
<line x1="249.20" y1="404.20" x2="249.20" y2="408.60" stroke="#000" stroke-width="1.5" />
<text transform="translate(252.20,419.50) rotate(-45)" font-size="12.5" text-anchor="end" fill="#111" >4.0</text>
<line x1="345.80" y1="404.20" x2="345.80" y2="408.60" stroke="#000" stroke-width="1.5" />
<text transform="translate(348.80,419.50) rotate(-45)" font-size="12.5" text-anchor="end" fill="#111" >4.5</text>
<text x="201.00" y="444.70" font-size="12" text-anchor="middle" font-weight="normal" fill="#111" >Mean axon diameter (μm)</text>
<text transform="translate(27.20,330.90) rotate(-90)" font-size="12" text-anchor="middle" fill="#111" >SNAP amplitude (μV)</text>
<line x1="69.80" y1="357.10" x2="285.70" y2="288.10" stroke="#000" stroke-width="2.2" />
<circle cx="69.80" cy="381.70" r="1.6" fill="#000"/>
<circle cx="88.90" cy="363.50" r="1.6" fill="#000"/>
<circle cx="94.40" cy="358.00" r="1.6" fill="#000"/>
<circle cx="136.30" cy="296.60" r="1.6" fill="#000"/>
<circle cx="138.40" cy="352.00" r="1.6" fill="#000"/>
<circle cx="150.70" cy="285.10" r="1.6" fill="#000"/>
<circle cx="161.70" cy="337.60" r="1.6" fill="#000"/>
<circle cx="168.50" cy="302.50" r="1.6" fill="#000"/>
<circle cx="171.00" cy="343.10" r="1.6" fill="#000"/>
<circle cx="173.10" cy="302.50" r="1.6" fill="#000"/>
<circle cx="172.70" cy="349.10" r="1.6" fill="#000"/>
<circle cx="178.60" cy="352.00" r="1.6" fill="#000"/>
<circle cx="181.20" cy="293.60" r="1.6" fill="#000"/>
<circle cx="190.90" cy="340.20" r="1.6" fill="#000"/>
<circle cx="197.70" cy="302.50" r="1.6" fill="#000"/>
<circle cx="210.40" cy="296.60" r="1.6" fill="#000"/>
<circle cx="212.50" cy="296.60" r="1.6" fill="#000"/>
<circle cx="211.60" cy="300.00" r="1.6" fill="#000"/>
<circle cx="211.60" cy="302.50" r="1.6" fill="#000"/>
<circle cx="211.60" cy="311.40" r="1.6" fill="#000"/>
<circle cx="210.40" cy="319.90" r="1.6" fill="#000"/>
<circle cx="213.30" cy="322.80" r="1.6" fill="#000"/>
<circle cx="217.20" cy="311.40" r="1.6" fill="#000"/>
<circle cx="228.60" cy="308.40" r="1.6" fill="#000"/>
<circle cx="232.40" cy="285.10" r="1.6" fill="#000"/>
<circle cx="233.70" cy="302.50" r="1.6" fill="#000"/>
<circle cx="241.30" cy="288.10" r="1.6" fill="#000"/>
<circle cx="245.50" cy="316.90" r="1.6" fill="#000"/>
<circle cx="248.50" cy="308.40" r="1.6" fill="#000"/>
<circle cx="251.00" cy="293.60" r="1.6" fill="#000"/>
<circle cx="258.20" cy="305.50" r="1.6" fill="#000"/>
<circle cx="262.50" cy="296.60" r="1.6" fill="#000"/>
<circle cx="265.80" cy="296.60" r="1.6" fill="#000"/>
<circle cx="270.50" cy="311.40" r="1.6" fill="#000"/>
<circle cx="286.20" cy="293.60" r="1.6" fill="#000"/>
<text x="251.00" y="383.60" font-size="12.35" text-anchor="start" font-weight="bold" fill="#000" >Pearson r = 0.67</text>
<text x="251.00" y="401.60" font-size="12.35" text-anchor="start" font-weight="bold" fill="#000" >r<tspan dy="-5.6" font-size="8.8">2</tspan><tspan dy="5.6"> = 0.46</tspan></text>
<text x="375.80" y="250.10" font-size="18" text-anchor="start" font-weight="bold" fill="#000" >E</text>
<line x1="462.20" y1="256.70" x2="462.20" y2="404.00" stroke="#000" stroke-width="1.5" />
<line x1="457.20" y1="367.18" x2="462.20" y2="367.18" stroke="#000" stroke-width="1.5" />
<text x="456.50" y="371.28" font-size="11.5" text-anchor="end" font-weight="normal" fill="#111" >20</text>
<line x1="457.20" y1="330.35" x2="462.20" y2="330.35" stroke="#000" stroke-width="1.5" />
<text x="456.50" y="334.45" font-size="11.5" text-anchor="end" font-weight="normal" fill="#111" >40</text>
<line x1="457.20" y1="293.52" x2="462.20" y2="293.52" stroke="#000" stroke-width="1.5" />
<text x="456.50" y="297.62" font-size="11.5" text-anchor="end" font-weight="normal" fill="#111" >60</text>
<line x1="457.20" y1="256.70" x2="462.20" y2="256.70" stroke="#000" stroke-width="1.5" />
<text x="456.50" y="260.80" font-size="11.5" text-anchor="end" font-weight="normal" fill="#111" >80</text>
<line x1="455.70" y1="395.20" x2="462.20" y2="395.20" stroke="#000" stroke-width="1.5" />
<line x1="457.20" y1="404.00" x2="462.20" y2="404.00" stroke="#000" stroke-width="1.5" />
<text x="455.80" y="407.40" font-size="11" text-anchor="end" font-weight="normal" fill="#111" >0</text>
<text x="455.80" y="399.20" font-size="10.8" text-anchor="end" font-weight="normal" fill="#111" >LLOD</text>
<text transform="translate(420.20,330.20) rotate(-90)" font-size="12" text-anchor="middle" fill="#111" >IL-6 levels spinal cord (pg/ml)</text>
<line x1="458.30" y1="404.00" x2="685.00" y2="404.00" stroke="#000" stroke-width="1.5" />
<line x1="465.00" y1="395.20" x2="685.00" y2="395.20" stroke="#000" stroke-width="1.1" stroke-dasharray="1.6,2.4"/>
<line x1="496.20" y1="404.00" x2="496.20" y2="408.00" stroke="#000" stroke-width="1.5" />
<line x1="547.40" y1="404.00" x2="547.40" y2="408.00" stroke="#000" stroke-width="1.5" />
<line x1="598.50" y1="404.00" x2="598.50" y2="408.00" stroke="#000" stroke-width="1.5" />
<line x1="648.30" y1="404.00" x2="648.30" y2="408.00" stroke="#000" stroke-width="1.5" />
<polyline points="495.90,261.80 495.90,250.10 548.10,250.10 548.10,261.80" fill="none" stroke="#000" stroke-width="1.6" />
<line x1="520.80" y1="240.20" x2="520.80" y2="237.00" stroke="#000" stroke-width="1.4" stroke-linecap="butt"/>
<line x1="520.80" y1="240.20" x2="523.84" y2="239.21" stroke="#000" stroke-width="1.4" stroke-linecap="butt"/>
<line x1="520.80" y1="240.20" x2="522.68" y2="242.79" stroke="#000" stroke-width="1.4" stroke-linecap="butt"/>
<line x1="520.80" y1="240.20" x2="518.92" y2="242.79" stroke="#000" stroke-width="1.4" stroke-linecap="butt"/>
<line x1="520.80" y1="240.20" x2="517.76" y2="239.21" stroke="#000" stroke-width="1.4" stroke-linecap="butt"/>
<path d="M496.20,284.60 L495.90,284.67 L495.48,284.75 L494.98,284.86 L494.47,284.98 L493.99,285.13 L493.60,285.30 L493.30,285.49 L493.04,285.71 L492.81,285.94 L492.62,286.20 L492.45,286.49 L492.30,286.80 L492.18,287.05 L492.08,287.23 L492.01,287.43 L491.96,287.76 L491.93,288.32 L491.90,289.20 L491.88,290.51 L491.88,292.18 L491.89,294.07 L491.91,296.07 L491.95,298.02 L492.00,299.80 L492.07,301.44 L492.17,303.07 L492.27,304.65 L492.39,306.18 L492.50,307.63 L492.60,309.00 L492.69,310.24 L492.79,311.34 L492.89,312.38 L492.97,313.40 L493.05,314.45 L493.10,315.60 L493.13,316.83 L493.16,318.09 L493.16,319.38 L493.16,320.71 L493.13,322.09 L493.10,323.50 L493.04,325.02 L492.97,326.65 L492.88,328.32 L492.78,329.95 L492.68,331.47 L492.60,332.80 L492.53,333.92 L492.46,334.90 L492.39,335.76 L492.33,336.54 L492.27,337.28 L492.20,338.00 L492.15,338.56 L492.13,338.91 L492.11,339.21 L492.06,339.63 L491.97,340.33 L491.80,341.50 L491.54,343.29 L491.21,345.60 L490.84,348.19 L490.44,350.85 L490.05,353.33 L489.70,355.40 L489.39,357.03 L489.11,358.39 L488.84,359.58 L488.56,360.69 L488.25,361.79 L487.90,363.00 L487.50,364.29 L487.06,365.59 L486.59,366.89 L486.12,368.20 L485.65,369.50 L485.20,370.80 L484.76,372.09 L484.33,373.37 L483.90,374.66 L483.48,375.94 L483.08,377.22 L482.70,378.50 L482.33,379.78 L481.98,381.07 L481.64,382.36 L481.32,383.64 L481.04,384.92 L480.80,386.20 L480.60,387.49 L480.42,388.79 L480.27,390.09 L480.17,391.37 L480.11,392.62 L480.10,393.80 L480.15,394.94 L480.27,396.07 L480.43,397.15 L480.62,398.18 L480.81,399.13 L481.00,400.00 L481.20,400.79 L481.42,401.53 L481.66,402.19 L481.88,402.76 L482.07,403.24 L482.20,403.60 L510.20,403.60 L510.33,403.24 L510.52,402.76 L510.74,402.19 L510.98,401.53 L511.20,400.79 L511.40,400.00 L511.59,399.13 L511.78,398.18 L511.97,397.15 L512.13,396.07 L512.25,394.94 L512.30,393.80 L512.29,392.62 L512.23,391.37 L512.12,390.09 L511.98,388.79 L511.80,387.49 L511.60,386.20 L511.36,384.92 L511.08,383.64 L510.76,382.36 L510.42,381.07 L510.07,379.78 L509.70,378.50 L509.32,377.22 L508.92,375.94 L508.50,374.66 L508.07,373.37 L507.64,372.09 L507.20,370.80 L506.75,369.50 L506.28,368.20 L505.81,366.89 L505.34,365.59 L504.90,364.29 L504.50,363.00 L504.15,361.79 L503.84,360.69 L503.56,359.58 L503.29,358.39 L503.01,357.03 L502.70,355.40 L502.35,353.33 L501.96,350.85 L501.56,348.19 L501.19,345.60 L500.86,343.29 L500.60,341.50 L500.43,340.33 L500.34,339.63 L500.29,339.21 L500.27,338.91 L500.25,338.56 L500.20,338.00 L500.13,337.28 L500.07,336.54 L500.01,335.76 L499.94,334.90 L499.87,333.92 L499.80,332.80 L499.72,331.47 L499.62,329.95 L499.52,328.32 L499.43,326.65 L499.36,325.02 L499.30,323.50 L499.27,322.09 L499.24,320.71 L499.24,319.38 L499.24,318.09 L499.27,316.83 L499.30,315.60 L499.35,314.45 L499.43,313.40 L499.51,312.38 L499.61,311.34 L499.71,310.24 L499.80,309.00 L499.90,307.63 L500.01,306.18 L500.12,304.65 L500.23,303.07 L500.33,301.44 L500.40,299.80 L500.45,298.02 L500.49,296.07 L500.51,294.07 L500.52,292.18 L500.52,290.51 L500.50,289.20 L500.47,288.32 L500.44,287.76 L500.39,287.43 L500.32,287.23 L500.22,287.05 L500.10,286.80 L499.95,286.49 L499.78,286.20 L499.59,285.94 L499.36,285.71 L499.10,285.49 L498.80,285.30 L498.41,285.13 L497.93,284.98 L497.42,284.86 L496.92,284.75 L496.50,284.67 L496.20,284.60 Z" fill="none" stroke="#000" stroke-width="2" stroke-linejoin="round"/>
<line x1="484.20" y1="384.20" x2="508.20" y2="384.20" stroke="#333" stroke-width="1" stroke-dasharray="2,1.5"/>
<line x1="489.20" y1="336.00" x2="503.20" y2="336.00" stroke="#999" stroke-width="0.8" stroke-dasharray="1,1.5"/>
<line x1="490.20" y1="398.50" x2="510.20" y2="398.50" stroke="#555" stroke-width="0.9" stroke-dasharray="1,1.2"/>
<circle cx="496.10" cy="287.30" r="3.0" fill="#000"/>
<circle cx="496.10" cy="310.10" r="3.0" fill="#000"/>
<circle cx="496.00" cy="345.40" r="3.0" fill="#000"/>
<circle cx="496.00" cy="360.30" r="3.0" fill="#000"/>
<circle cx="484.90" cy="383.80" r="3.0" fill="#000"/>
<circle cx="507.50" cy="383.80" r="3.0" fill="#000"/>
<circle cx="496.00" cy="388.00" r="3.0" fill="#000"/>
<circle cx="484.90" cy="396.20" r="3.0" fill="#000"/>
<circle cx="496.00" cy="403.80" r="3.0" fill="#000"/>
<circle cx="507.50" cy="403.80" r="3.0" fill="#000"/>
<path d="M547.40,328.60 L547.17,328.63 L546.83,328.66 L546.44,328.71 L546.04,328.77 L545.68,328.87 L545.40,329.00 L545.21,329.14 L545.07,329.27 L544.98,329.43 L544.90,329.66 L544.85,330.01 L544.80,330.50 L544.76,331.18 L544.74,332.02 L544.73,332.97 L544.74,333.98 L544.76,335.01 L544.80,336.00 L544.85,336.99 L544.92,338.04 L545.01,339.09 L545.10,340.13 L545.20,341.11 L545.30,342.00 L545.41,342.77 L545.52,343.44 L545.64,344.06 L545.76,344.67 L545.88,345.30 L546.00,346.00 L546.12,346.73 L546.26,347.44 L546.39,348.19 L546.51,349.00 L546.62,349.92 L546.70,351.00 L546.75,352.20 L546.78,353.48 L546.79,354.88 L546.80,356.41 L546.80,358.11 L546.80,360.00 L546.81,362.25 L546.83,364.85 L546.84,367.62 L546.85,370.37 L546.84,372.89 L546.80,375.00 L546.74,376.66 L546.67,378.03 L546.57,379.17 L546.47,380.16 L546.34,381.08 L546.20,382.00 L546.07,382.86 L545.97,383.58 L545.85,384.23 L545.67,384.86 L545.40,385.53 L545.00,386.30 L544.44,387.17 L543.76,388.10 L542.98,389.07 L542.13,390.06 L541.26,391.04 L540.40,392.00 L539.49,392.96 L538.49,393.94 L537.46,394.92 L536.47,395.87 L535.56,396.77 L534.80,397.60 L534.20,398.35 L533.71,399.05 L533.31,399.70 L532.97,400.30 L532.68,400.87 L532.40,401.40 L532.15,401.91 L531.96,402.39 L531.80,402.84 L531.68,403.23 L531.58,403.56 L531.50,403.80 L563.30,403.80 L563.22,403.56 L563.12,403.23 L563.00,402.84 L562.84,402.39 L562.65,401.91 L562.40,401.40 L562.12,400.87 L561.83,400.30 L561.49,399.70 L561.09,399.05 L560.60,398.35 L560.00,397.60 L559.24,396.77 L558.33,395.87 L557.34,394.92 L556.31,393.94 L555.31,392.96 L554.40,392.00 L553.54,391.04 L552.67,390.06 L551.82,389.07 L551.04,388.10 L550.36,387.17 L549.80,386.30 L549.40,385.53 L549.13,384.86 L548.95,384.23 L548.83,383.58 L548.73,382.86 L548.60,382.00 L548.46,381.08 L548.33,380.16 L548.23,379.17 L548.13,378.03 L548.06,376.66 L548.00,375.00 L547.96,372.89 L547.95,370.37 L547.96,367.62 L547.97,364.85 L547.99,362.25 L548.00,360.00 L548.00,358.11 L548.00,356.41 L548.01,354.88 L548.02,353.48 L548.05,352.20 L548.10,351.00 L548.18,349.92 L548.29,349.00 L548.41,348.19 L548.54,347.44 L548.68,346.73 L548.80,346.00 L548.92,345.30 L549.04,344.67 L549.16,344.06 L549.28,343.44 L549.39,342.77 L549.50,342.00 L549.60,341.11 L549.70,340.13 L549.79,339.09 L549.88,338.04 L549.95,336.99 L550.00,336.00 L550.04,335.01 L550.06,333.98 L550.07,332.97 L550.06,332.02 L550.04,331.18 L550.00,330.50 L549.95,330.01 L549.90,329.66 L549.82,329.43 L549.73,329.27 L549.59,329.14 L549.40,329.00 L549.12,328.87 L548.76,328.77 L548.36,328.71 L547.97,328.66 L547.63,328.63 L547.40,328.60 Z" fill="#fff" stroke="#a8a8a8" stroke-width="2" stroke-linejoin="round"/>
<rect x="544.70" y="330.20" width="5.4" height="5.4" fill="#000"/>
<rect x="544.70" y="339.10" width="5.4" height="5.4" fill="#000"/>
<rect x="544.70" y="391.60" width="5.4" height="5.4" fill="#000"/>
<rect x="553.60" y="395.90" width="5.4" height="5.4" fill="#000"/>
<rect x="530.80" y="400.4" width="5.6" height="5.7" fill="#000"/>
<rect x="534.70" y="400.4" width="5.6" height="5.7" fill="#000"/>
<rect x="538.70" y="400.4" width="5.6" height="5.7" fill="#000"/>
<rect x="542.70" y="400.4" width="5.6" height="5.7" fill="#000"/>
<rect x="546.70" y="400.4" width="5.6" height="5.7" fill="#000"/>
<rect x="549.80" y="400.4" width="5.6" height="5.7" fill="#000"/>
<rect x="558.20" y="400.4" width="5.6" height="5.7" fill="#000"/>
<path d="M598.50,374.00 L598.42,374.00 L598.29,373.94 L598.15,373.91 L598.01,373.94 L597.88,374.12 L597.80,374.50 L597.76,375.08 L597.75,375.80 L597.76,376.66 L597.77,377.65 L597.79,378.77 L597.80,380.00 L597.81,381.48 L597.83,383.22 L597.85,385.09 L597.86,386.94 L597.85,388.63 L597.80,390.00 L597.74,391.03 L597.69,391.81 L597.62,392.44 L597.50,392.96 L597.30,393.46 L597.00,394.00 L596.60,394.55 L596.13,395.06 L595.58,395.53 L594.95,396.00 L594.26,396.48 L593.50,397.00 L592.63,397.56 L591.65,398.14 L590.59,398.73 L589.52,399.33 L588.47,399.92 L587.50,400.50 L586.55,401.10 L585.57,401.74 L584.62,402.37 L583.76,402.95 L583.03,403.44 L582.50,403.80 L614.50,403.80 L613.97,403.44 L613.24,402.95 L612.38,402.37 L611.43,401.74 L610.45,401.10 L609.50,400.50 L608.53,399.92 L607.48,399.33 L606.41,398.73 L605.35,398.14 L604.37,397.56 L603.50,397.00 L602.74,396.48 L602.05,396.00 L601.42,395.53 L600.87,395.06 L600.40,394.55 L600.00,394.00 L599.70,393.46 L599.50,392.96 L599.38,392.44 L599.31,391.81 L599.26,391.03 L599.20,390.00 L599.15,388.63 L599.14,386.94 L599.15,385.09 L599.17,383.22 L599.19,381.48 L599.20,380.00 L599.21,378.77 L599.23,377.65 L599.24,376.66 L599.25,375.80 L599.24,375.08 L599.20,374.50 L599.12,374.12 L598.99,373.94 L598.85,373.91 L598.71,373.94 L598.58,374.00 L598.50,374.00 Z" fill="#fff" stroke="#999" stroke-width="2" stroke-linejoin="round"/>
<polygon points="598.50,369.8 601.70,376 595.30,376" fill="#000"/>
<polygon points="585.80,401.2 589.20,407.3 582.40,407.3" fill="#000"/>
<polygon points="589.00,401.2 592.40,407.3 585.60,407.3" fill="#000"/>
<polygon points="592.20,401.2 595.60,407.3 588.80,407.3" fill="#000"/>
<polygon points="595.40,401.2 598.80,407.3 592.00,407.3" fill="#000"/>
<polygon points="598.60,401.2 602.00,407.3 595.20,407.3" fill="#000"/>
<polygon points="601.80,401.2 605.20,407.3 598.40,407.3" fill="#000"/>
<polygon points="605.00,401.2 608.40,407.3 601.60,407.3" fill="#000"/>
<polygon points="608.20,401.2 611.60,407.3 604.80,407.3" fill="#000"/>
<polygon points="611.40,401.2 614.80,407.3 608.00,407.3" fill="#000"/>
<polygon points="645.00,393.50 651.80,393.50 648.40,399.80" fill="#000"/>
<polygon points="633.10,401.2 639.90,401.2 636.50,407.6" fill="#000"/>
<polygon points="636.43,401.2 643.23,401.2 639.83,407.6" fill="#000"/>
<polygon points="639.75,401.2 646.55,401.2 643.15,407.6" fill="#000"/>
<polygon points="643.08,401.2 649.88,401.2 646.48,407.6" fill="#000"/>
<polygon points="646.40,401.2 653.20,401.2 649.80,407.6" fill="#000"/>
<polygon points="649.73,401.2 656.52,401.2 653.12,407.6" fill="#000"/>
<polygon points="653.05,401.2 659.85,401.2 656.45,407.6" fill="#000"/>
<polygon points="656.38,401.2 663.17,401.2 659.77,407.6" fill="#000"/>
<polygon points="659.70,401.2 666.50,401.2 663.10,407.6" fill="#000"/>
<text transform="translate(501.20,417.00) rotate(-45)" font-size="11" text-anchor="end" fill="#111" >BL6/PTX</text>
<text transform="translate(552.40,417.00) rotate(-45)" font-size="11" text-anchor="end" fill="#111" >BL6/VEH</text>
<text transform="translate(603.50,417.00) rotate(-45)" font-size="11" text-anchor="end" fill="#111" >IL-6<tspan dy="-4" font-size="78%">-/-</tspan><tspan dy="4">/VEH</tspan></text>
<text transform="translate(653.30,417.00) rotate(-45)" font-size="11" text-anchor="end" fill="#111" >IL-6<tspan dy="-4" font-size="78%">-/-</tspan><tspan dy="4">/PTX</tspan></text>
</svg></body></html>
